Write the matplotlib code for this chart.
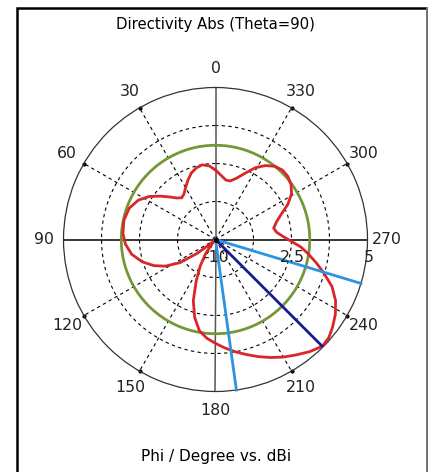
"""Polar farfield cut: directivity (abs) over phi at theta = 90 deg."""

import matplotlib

matplotlib.use("Agg")
import matplotlib.pyplot as plt
import matplotlib.transforms as mtransforms
import numpy as np
from matplotlib.patches import Rectangle

plt.rcParams["font.family"] = ["DejaVu Sans"]

# Farfield cut, phi in degrees -> directivity in dBi
PHI_DEG = [0, 5, 10, 15, 20, 25, 30, 35, 39, 43, 47, 52, 57, 63, 70, 78, 86,
           93, 100, 107, 113, 118, 123, 127, 131, 136, 141, 145, 150, 155,
           160, 165, 170, 175, 180, 185, 190, 195, 200, 205, 210, 215, 220,
           225, 229, 233, 238, 243, 248, 253, 257, 261, 265, 269, 273, 277,
           281, 286, 291, 296, 301, 306, 311, 316, 321, 326, 331, 336, 341,
           346, 350, 355, 360]
DIRECTIVITY_DBI = [-3.14, -2.70, -2.52, -2.68, -3.02, -3.55, -4.10, -4.55,
                   -4.70, -4.40, -3.85, -3.05, -2.20, -1.45, -0.95, -0.76,
                   -0.84, -1.10, -1.60, -2.45, -3.40, -4.40, -5.80, -7.70,
                   -9.30, -12.0, -9.50, -8.30, -7.00, -5.50, -3.60, -2.05,
                   -0.85, -0.22, 0.25, 0.75, 1.25, 1.75, 2.30, 2.85, 3.40,
                   3.90, 4.45, 4.90, 4.80, 4.45, 3.95, 3.30, 2.40, 1.15,
                   0.20, -0.70, -1.55, -2.60, -3.40, -3.95, -4.15, -3.75,
                   -3.05, -2.05, -1.25, -0.78, -0.53, -0.48, -0.70, -1.20,
                   -1.90, -2.85, -3.60, -4.05, -4.05, -3.65, -3.14]

MAIN_LOBE_DIR_DEG = 225.0
MAIN_LOBE_DBI = 4.9
BEAM_EDGES_DEG = [187.9, 253.2]   # 3 dB angular width
SIDE_LOBE_DBI = -0.7

R_MIN, R_MAX = -10.0, 5.0
RING_LEVELS = [-6.25, -2.5, 1.25]
RADIAL_LABELS = [(-10.0, "-10"), (-2.5, "2.5"), (5.0, "5")]
ANGLE_TICKS = [0, 30, 60, 90, 120, 150, 180, 210, 240, 270, 300, 330]

TITLE = "Directivity Abs (Theta=90)"
XLABEL = "Phi / Degree vs. dBi"

RED = "#d8262a"
GREEN = "#76963a"
NAVY = "#1a1a96"
SKY = "#2b94e2"


def draw_grid(ax):
    full = np.linspace(0, 2 * np.pi, 361)
    for level in RING_LEVELS:
        ax.plot(full, np.full_like(full, level), color="black", lw=0.8,
                ls=(0, (3, 3)), zorder=1)
    for deg in ANGLE_TICKS:
        th = np.deg2rad(deg)
        if deg % 90 == 0:
            color = "#555555" if deg in (0, 180) else "black"
            ax.plot([th, th], [R_MIN, R_MAX], color=color, lw=1.1, zorder=1)
        else:
            ax.plot([th, th], [R_MIN, R_MAX], color="black", lw=0.8,
                    ls=(0, (3, 3)), zorder=1)
            ax.plot([th], [R_MAX], marker="o", ms=2, color="black", zorder=2,
                    clip_on=False)
    ax.plot([0], [R_MIN], marker="o", ms=2.5, color="black", zorder=6)


def draw_labels(ax):
    for deg in ANGLE_TICKS:
        ax.text(np.deg2rad(deg), 6.9, str(deg), ha="center", va="center",
                fontsize=11.3, color="#222222", clip_on=False)
    down = mtransforms.offset_copy(ax.transData, fig=ax.figure, x=1, y=-18,
                                   units="dots")
    for value, text in RADIAL_LABELS:
        ax.text(np.deg2rad(270), value, text, transform=down, ha="center",
                va="center", fontsize=11.3, color="#222222", clip_on=False,
                zorder=7)


def main():
    fig = plt.figure(figsize=(4.28, 4.72), dpi=100)
    fig.patch.set_facecolor("white")

    # window frame
    fig.add_artist(Rectangle((17 / 428, -0.05), 410 / 428, 1.05 - 8 / 472,
                             transform=fig.transFigure, fill=False,
                             edgecolor="black", lw=1.8))
    fig.add_artist(plt.Line2D([426.5 / 428, 426.5 / 428], [0, 1 - 8 / 472],
                              transform=fig.transFigure, color="#888888",
                              lw=1.2))

    ax = fig.add_axes([63.5 / 428, (472 - 391.5) / 472, 304 / 428, 304 / 472],
                      projection="polar")
    ax.set_theta_zero_location("N")
    ax.set_theta_direction(1)
    ax.set_ylim(R_MIN, R_MAX)
    ax.set_xticks([])
    ax.set_yticks([])
    ax.grid(False)
    ax.spines["polar"].set_color("#333333")
    ax.spines["polar"].set_linewidth(0.9)

    draw_grid(ax)

    full = np.linspace(0, 2 * np.pi, 361)
    ax.plot(full, np.full_like(full, SIDE_LOBE_DBI), color=GREEN, lw=2,
            zorder=3)

    phi = np.deg2rad(PHI_DEG)
    dbi = np.clip(DIRECTIVITY_DBI, R_MIN, None)
    ax.plot(phi, dbi, color=RED, lw=2, zorder=4)

    for deg in BEAM_EDGES_DEG:
        th = np.deg2rad(deg)
        ax.plot([th, th], [R_MIN, R_MAX], color=SKY, lw=2, zorder=5,
                clip_on=False)
    th = np.deg2rad(MAIN_LOBE_DIR_DEG)
    ax.plot([th, th], [R_MIN, MAIN_LOBE_DBI], color=NAVY, lw=2, zorder=5)

    draw_labels(ax)

    fig.text(215.5 / 428, 1 - 25 / 472, TITLE, ha="center", va="center",
             fontsize=10.7)
    fig.text(216 / 428, 1 - 457 / 472, XLABEL, ha="center", va="center",
             fontsize=11)

    fig.savefig("out.png", dpi=100, facecolor="white")
    plt.close(fig)


if __name__ == "__main__":
    main()
